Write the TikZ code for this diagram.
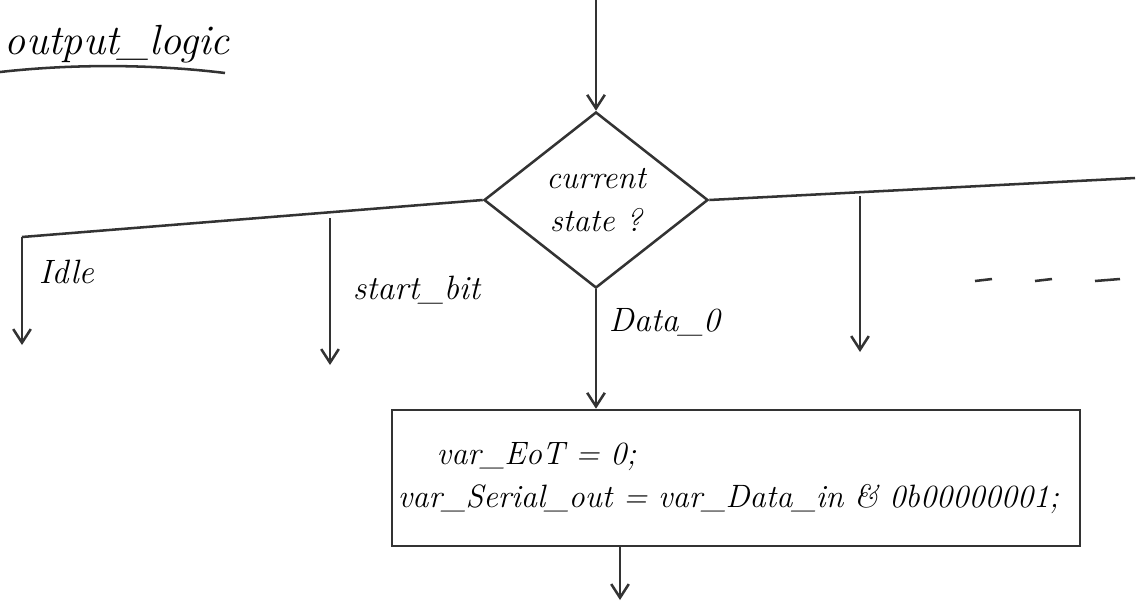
\documentclass[tikz,border=0pt]{standalone}
\usetikzlibrary{arrows.meta,shapes.geometric,positioning}
\newcommand{\hand}{\fontsize{24}{30}\selectfont\itshape}
\newcommand{\code}{\fontsize{23}{31}\selectfont\itshape}
\tikzset{
  dec/.style={diamond,draw=black!80,line width=1.8pt,minimum width=5.6cm,minimum height=4.4cm,inner sep=0pt,align=center,font=\code},
  act/.style={rectangle,draw=black!80,line width=1.8pt,minimum width=17.2cm,minimum height=3.4cm,inner sep=3pt,text width=16.9cm,align=left,font=\code},
  lnk/.style={draw=black!80,line width=1.8pt},
  flw/.style={lnk,-{Straight Barb[length=3.4mm,width=4.4mm]}},
  lb/.style={font=\hand,anchor=west},
}
\begin{document}
\begin{tikzpicture}[x=0.025cm,y=-0.025cm]
\useasboundingbox (0,0) rectangle (1138,607);
% heading, underlined by hand
\node[font=\fontsize{30}{34}\selectfont\itshape,anchor=south west] (ttl) at (0,68) {output\_logic};
\draw[lnk] (0,72) .. controls (80,63) and (160,65) .. (225,73);
% the decision on the current state
\coordinate (in) at (594,0);
\node[dec] (cs) at (596,200) {current\\state ?};
\draw[flw] (in -| cs.north) -- (cs.north);
\coordinate (lt) at (22,237);
\coordinate (rt) at (1135,178);
\draw[lnk] (cs.west) -- (lt);
\draw[lnk] (cs.east) -- (rt);
% one branch per state
\coordinate (idle) at (22,345);
\draw[flw] (lt) -- (idle);
\node[lb] (lidle) at (34,272) {Idle};
\coordinate (sb0) at (330,218);
\coordinate (sb1) at (330,365);
\draw[flw] (sb0) -- (sb1);
\node[lb] (lsb) at (348,290) {start\_bit};
\coordinate (nx0) at (860,196);
\coordinate (nx1) at (860,352);
\draw[flw] (nx0) -- (nx1);
\foreach \a/\b in {975/992, 1035/1052, 1095/1120}{
  \draw[lnk] (\a,281) -- (\b,279);
}
% the Data_0 action
\node[act] (blk) at (736,478)
  {\hspace*{1.2em}var\_EoT = 0;\\
   var\_Serial\_out = var\_Data\_in \& 0b00000001;\\[0pt]};
\draw[flw] (cs.south) -- (cs.south |- blk.north);
\node[lb] (ld0) at (604,322) {Data\_0};
\coordinate (out) at (620,600);
\draw[flw] (out |- blk.south) -- (out);
\end{tikzpicture}
\end{document}
